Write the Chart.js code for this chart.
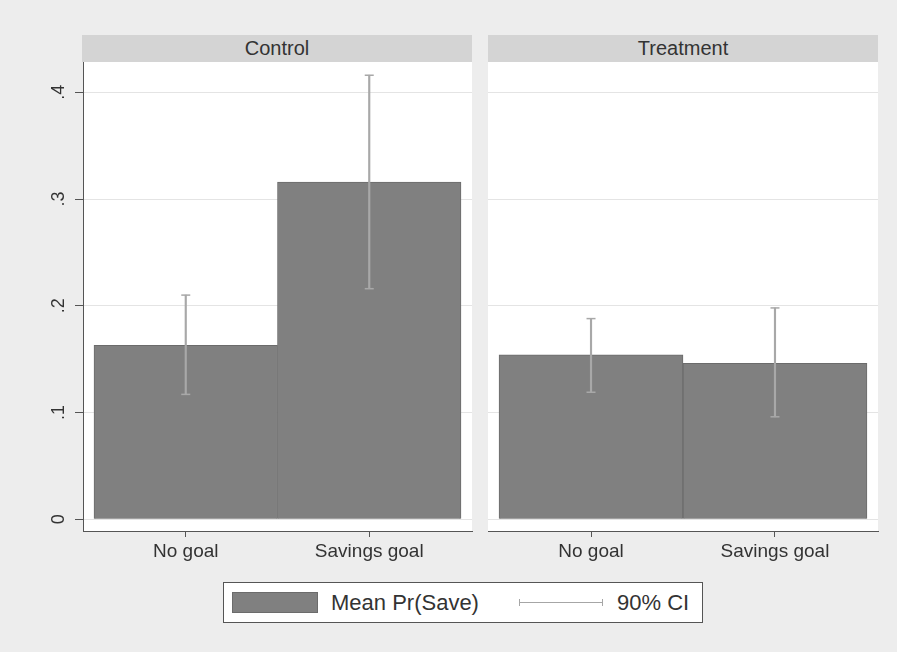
<!DOCTYPE html>
<html lang="en">
<head>
    <meta charset="UTF-8">
    <meta name="viewport" content="width=device-width, initial-scale=1.0">
    <title>Mean Pr(Save) by group</title>
    <style>
        body {
            margin: 0;
            background-color: #ededed;
            font-family: "Liberation Sans", Arial, sans-serif;
            color: #333;
        }
        #page {
            position: relative;
            width: 897px;
            height: 652px;
            overflow: hidden;
        }
        .strip {
            position: absolute;
            top: 35px;
            height: 27px;
            width: 390px;
            background: #d4d4d4;
            font-size: 20px;
            display: flex;
            align-items: center;
            justify-content: center;
            color: #333;
        }
        .panel {
            position: absolute;
            top: 62px;
            height: 509px;
        }
        /* legend box */
        #legend {
            position: absolute;
            left: 223px;
            top: 582px;
            width: 480px;
            height: 41px;
            box-sizing: border-box;
            background: #fff;
            border: 1px solid #555;
        }
        #legend .swatch {
            position: absolute;
            left: 8px;
            top: 9px;
            width: 86px;
            height: 21px;
            box-sizing: border-box;
            background: #808080;
            border: 1px solid #6b6b6b;
        }
        #legend .label {
            position: absolute;
            top: 0;
            height: 39px;
            display: flex;
            align-items: center;
            font-size: 22px;
            color: #333;
        }
        #legend .ciline {
            position: absolute;
            left: 295px;
            top: 19px;
            width: 84px;
            height: 1px;
            background: #a6a6a6;
        }
        #legend .cicap {
            position: absolute;
            top: 16px;
            width: 1px;
            height: 7px;
            background: #a6a6a6;
        }
    </style>
</head>
<body>
    <div id="page">
        <div class="strip" style="left: 82px;">Control</div>
        <div class="strip" style="left: 488px;">Treatment</div>
        <div class="panel" style="left: 0px; width: 480px;"><canvas id="chartControl"></canvas></div>
        <div class="panel" style="left: 480px; width: 417px;"><canvas id="chartTreatment"></canvas></div>
        <div id="legend">
            <div class="swatch"></div>
            <div class="label" style="left: 107px;">Mean Pr(Save)</div>
            <div class="ciline"></div>
            <div class="cicap" style="left: 295px;"></div>
            <div class="cicap" style="left: 378px;"></div>
            <div class="label" style="left: 393px;">90% CI</div>
        </div>
    </div>
    <script src="https://cdn.jsdelivr.net/npm/chart.js@4.4.1/dist/chart.umd.min.js"></script>
    <script>
        // values
        const categories = ['No goal', 'Savings goal'];
        const controlMean = [0.163, 0.316];
        const controlLow = [0.117, 0.216];
        const controlHigh = [0.210, 0.416];
        const treatmentMean = [0.154, 0.146];
        const treatmentLow = [0.119, 0.096];
        const treatmentHigh = [0.188, 0.198];
        const yTickValues = [0, 0.1, 0.2, 0.3, 0.4];
        const yTickLabels = ['0', '.1', '.2', '.3', '.4'];

        const barColor = '#808080';
        const ciColor = '#a8a8a8';
        const axisColor = '#555';

        // white plot region behind the bars
        const panelBg = {
            id: 'panelBg',
            beforeDraw(chart) {
                const ctx = chart.ctx;
                const a = chart.chartArea;
                ctx.save();
                ctx.fillStyle = '#ffffff';
                ctx.fillRect(a.left, a.top, a.right - a.left, a.bottom - a.top);
                ctx.restore();
            }
        };

        function plotPanel(canvasId, mean, low, high, showYAxis) {
            var barData = mean.map(function(v, i) { return {x: i, y: v}; });
            var ciData = low.map(function(v, i) { return {x: i, y: [v, high[i]]}; });
            var capData = [];
            low.forEach(function(v, i) {
                capData.push({x: i, y: v});
                capData.push({x: i, y: high[i]});
            });

            var ctx = document.getElementById(canvasId).getContext('2d');
            return new Chart(ctx, {
                type: 'bar',
                data: {
                    datasets: [
                        {
                            type: 'scatter',
                            data: capData,
                            pointStyle: 'line',
                            radius: 4.5,
                            borderColor: ciColor,
                            borderWidth: 1.5,
                            order: 0
                        },
                        {
                            data: ciData,
                            backgroundColor: ciColor,
                            borderWidth: 0,
                            barThickness: 1.5,
                            grouped: false,
                            order: 1
                        },
                        {
                            data: barData,
                            backgroundColor: barColor,
                            borderColor: '#6b6b6b',
                            borderWidth: 1,
                            barPercentage: 1,
                            categoryPercentage: 1,
                            grouped: false,
                            order: 2
                        }
                    ]
                },
                options: {
                    responsive: true,
                    maintainAspectRatio: false,
                    animation: false,
                    events: [],
                    layout: {
                        autoPadding: false,
                        padding: {left: 0, right: showYAxis ? 8 : 19, top: 0, bottom: 0}
                    },
                    plugins: {
                        legend: {display: false},
                        tooltip: {enabled: false}
                    },
                    scales: {
                        x: {
                            type: 'linear',
                            bounds: 'data',
                            offset: false,
                            min: -0.56,
                            max: 1.56,
                            afterBuildTicks: function(axis) {
                                axis.ticks = categories.map(function(c, i) { return {value: i}; });
                            },
                            afterFit: function(axis) {
                                axis.height = 40;
                                axis.paddingLeft = 0;
                                axis.paddingRight = 0;
                            },
                            ticks: {
                                autoSkip: false,
                                maxRotation: 0,
                                padding: 3,
                                color: '#333',
                                font: {family: 'Liberation Sans', size: 19},
                                callback: function(value, index) { return categories[index]; }
                            },
                            grid: {
                                offset: false,
                                drawOnChartArea: false,
                                drawTicks: true,
                                tickLength: 6,
                                tickColor: axisColor
                            },
                            border: {display: true, color: axisColor, width: 1}
                        },
                        y: {
                            type: 'linear',
                            bounds: 'data',
                            min: -0.011,
                            max: 0.4284,
                            afterBuildTicks: function(axis) {
                                axis.ticks = yTickValues.map(function(v) { return {value: v}; });
                            },
                            afterFit: function(axis) {
                                axis.width = showYAxis ? 83 : 8;
                                axis.paddingTop = 0;
                                axis.paddingBottom = 0;
                            },
                            ticks: {
                                display: showYAxis,
                                minRotation: 90,
                                maxRotation: 90,
                                crossAlign: 'center',
                                padding: 8,
                                color: '#333',
                                font: {family: 'Liberation Sans', size: 18},
                                callback: function(value, index) { return yTickLabels[index]; }
                            },
                            grid: {
                                color: '#e4e4e4',
                                drawTicks: showYAxis,
                                tickLength: 8,
                                tickColor: axisColor
                            },
                            border: {display: showYAxis, color: axisColor, width: 1}
                        }
                    }
                },
                plugins: [panelBg]
            });
        }

        plotPanel('chartControl', controlMean, controlLow, controlHigh, true);
        plotPanel('chartTreatment', treatmentMean, treatmentLow, treatmentHigh, false);
    </script>
</body>
</html>
